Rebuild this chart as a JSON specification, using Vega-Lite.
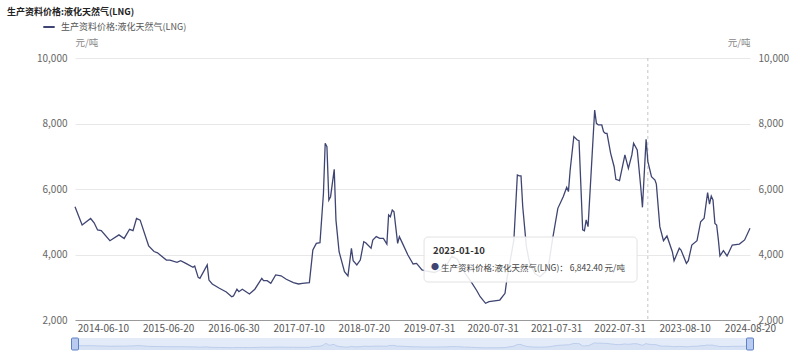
{
  "$schema": "https://vega.github.io/schema/vega-lite/v6.json",
  "width": 675,
  "height": 262,
  "autosize": {"type": "none"},
  "padding": {"left": 75, "top": 58, "right": 50, "bottom": 42},
  "background": "#ffffff",
  "config": {"font": "Noto Sans CJK SC", "view": {"stroke": null}},
  "title": {"text": "生产资料价格:液化天然气(LNG)", "anchor": "start", "frame": "group", "dx": -68, "offset": 3, "fontSize": 9, "fontWeight": "bold", "color": "#222222"},
  "datasets": {
    "lng": [
      {"date": "2013-12-31", "value": 5460}, {"date": "2014-02-10", "value": 4900}, {"date": "2014-03-31", "value": 5100}, {"date": "2014-04-20", "value": 4970},
      {"date": "2014-05-10", "value": 4750}, {"date": "2014-05-31", "value": 4730}, {"date": "2014-07-20", "value": 4420}, {"date": "2014-09-10", "value": 4600},
      {"date": "2014-10-10", "value": 4490}, {"date": "2014-11-10", "value": 4770}, {"date": "2014-11-30", "value": 4730}, {"date": "2014-12-20", "value": 5100},
      {"date": "2015-01-10", "value": 5050}, {"date": "2015-02-20", "value": 4390}, {"date": "2015-02-28", "value": 4260}, {"date": "2015-03-31", "value": 4090},
      {"date": "2015-04-20", "value": 4050}, {"date": "2015-06-10", "value": 3830}, {"date": "2015-06-30", "value": 3830}, {"date": "2015-08-10", "value": 3760},
      {"date": "2015-08-31", "value": 3810}, {"date": "2015-09-30", "value": 3730}, {"date": "2015-11-10", "value": 3610}, {"date": "2015-11-20", "value": 3650},
      {"date": "2015-12-10", "value": 3300}, {"date": "2015-12-20", "value": 3270}, {"date": "2016-01-31", "value": 3680}, {"date": "2016-02-10", "value": 3220},
      {"date": "2016-02-29", "value": 3100}, {"date": "2016-04-10", "value": 2970}, {"date": "2016-05-20", "value": 2855}, {"date": "2016-06-20", "value": 2710},
      {"date": "2016-06-30", "value": 2735}, {"date": "2016-07-20", "value": 2940}, {"date": "2016-07-31", "value": 2865}, {"date": "2016-08-20", "value": 2940},
      {"date": "2016-09-30", "value": 2795}, {"date": "2016-10-31", "value": 2940}, {"date": "2016-12-10", "value": 3270}, {"date": "2016-12-20", "value": 3200},
      {"date": "2017-01-10", "value": 3200}, {"date": "2017-01-31", "value": 3120}, {"date": "2017-02-28", "value": 3375}, {"date": "2017-03-31", "value": 3350},
      {"date": "2017-04-30", "value": 3245}, {"date": "2017-06-10", "value": 3140}, {"date": "2017-07-10", "value": 3100}, {"date": "2017-07-31", "value": 3120},
      {"date": "2017-09-10", "value": 3140}, {"date": "2017-09-30", "value": 4140}, {"date": "2017-10-20", "value": 4340}, {"date": "2017-11-10", "value": 4360},
      {"date": "2017-11-30", "value": 5870}, {"date": "2017-12-10", "value": 7395}, {"date": "2017-12-20", "value": 7290}, {"date": "2017-12-31", "value": 5665},
      {"date": "2018-01-10", "value": 5765}, {"date": "2018-01-31", "value": 6600}, {"date": "2018-02-10", "value": 5050}, {"date": "2018-02-28", "value": 4085},
      {"date": "2018-03-31", "value": 3475}, {"date": "2018-04-20", "value": 3345}, {"date": "2018-05-10", "value": 4190}, {"date": "2018-05-20", "value": 3810},
      {"date": "2018-06-10", "value": 3680}, {"date": "2018-06-30", "value": 3830}, {"date": "2018-07-20", "value": 4390}, {"date": "2018-07-31", "value": 4360},
      {"date": "2018-08-31", "value": 4190}, {"date": "2018-09-10", "value": 4440}, {"date": "2018-09-30", "value": 4545}, {"date": "2018-10-20", "value": 4495},
      {"date": "2018-11-10", "value": 4495}, {"date": "2018-11-30", "value": 4320}, {"date": "2018-12-10", "value": 5205}, {"date": "2018-12-20", "value": 5155},
      {"date": "2018-12-31", "value": 5360}, {"date": "2019-01-10", "value": 5305}, {"date": "2019-01-31", "value": 4340}, {"date": "2019-02-10", "value": 4545},
      {"date": "2019-02-28", "value": 4340}, {"date": "2019-03-31", "value": 3985}, {"date": "2019-04-30", "value": 3710}, {"date": "2019-05-20", "value": 3730},
      {"date": "2019-06-20", "value": 3530}, {"date": "2019-07-10", "value": 3500}, {"date": "2019-08-31", "value": 3450}, {"date": "2019-10-31", "value": 3600},
      {"date": "2019-12-10", "value": 3950}, {"date": "2020-01-10", "value": 3850}, {"date": "2020-02-20", "value": 3450}, {"date": "2020-03-31", "value": 3150},
      {"date": "2020-04-30", "value": 2900}, {"date": "2020-05-20", "value": 2710}, {"date": "2020-06-20", "value": 2510}, {"date": "2020-07-10", "value": 2560},
      {"date": "2020-09-10", "value": 2610}, {"date": "2020-10-10", "value": 2815}, {"date": "2020-10-20", "value": 3220}, {"date": "2020-11-30", "value": 4445},
      {"date": "2020-12-20", "value": 6430}, {"date": "2020-12-31", "value": 6400}, {"date": "2021-01-10", "value": 6400}, {"date": "2021-01-20", "value": 5460},
      {"date": "2021-02-10", "value": 4240}, {"date": "2021-02-28", "value": 3750}, {"date": "2021-03-31", "value": 3420}, {"date": "2021-04-30", "value": 3320},
      {"date": "2021-05-31", "value": 3480}, {"date": "2021-06-20", "value": 3750}, {"date": "2021-07-10", "value": 4445}, {"date": "2021-08-10", "value": 5410},
      {"date": "2021-09-10", "value": 5765}, {"date": "2021-09-30", "value": 6050}, {"date": "2021-10-10", "value": 5920}, {"date": "2021-10-20", "value": 6580},
      {"date": "2021-11-10", "value": 7600}, {"date": "2021-11-30", "value": 7495}, {"date": "2021-12-10", "value": 7475}, {"date": "2021-12-31", "value": 4750},
      {"date": "2022-01-10", "value": 4725}, {"date": "2022-01-20", "value": 5055}, {"date": "2022-01-31", "value": 4850}, {"date": "2022-03-10", "value": 8410},
      {"date": "2022-03-20", "value": 8005}, {"date": "2022-03-31", "value": 7955}, {"date": "2022-04-20", "value": 7955}, {"date": "2022-04-30", "value": 7750},
      {"date": "2022-05-10", "value": 7700}, {"date": "2022-05-20", "value": 7700}, {"date": "2022-06-10", "value": 7090}, {"date": "2022-06-30", "value": 6680},
      {"date": "2022-07-10", "value": 6295}, {"date": "2022-07-31", "value": 6255}, {"date": "2022-08-31", "value": 7040}, {"date": "2022-09-10", "value": 6835},
      {"date": "2022-09-20", "value": 6630}, {"date": "2022-10-10", "value": 7040}, {"date": "2022-10-20", "value": 7395}, {"date": "2022-11-10", "value": 7190},
      {"date": "2022-11-30", "value": 6070}, {"date": "2022-12-10", "value": 5440}, {"date": "2022-12-31", "value": 7517}, {"date": "2023-01-10", "value": 6842.4},
      {"date": "2023-01-31", "value": 6377}, {"date": "2023-02-20", "value": 6275}, {"date": "2023-02-28", "value": 6150}, {"date": "2023-03-20", "value": 4850},
      {"date": "2023-04-10", "value": 4420}, {"date": "2023-04-30", "value": 4565}, {"date": "2023-05-31", "value": 4085}, {"date": "2023-06-10", "value": 3810},
      {"date": "2023-07-10", "value": 4190}, {"date": "2023-07-20", "value": 4135}, {"date": "2023-08-20", "value": 3730}, {"date": "2023-08-31", "value": 3810},
      {"date": "2023-09-20", "value": 4290}, {"date": "2023-10-20", "value": 4420}, {"date": "2023-11-10", "value": 5000}, {"date": "2023-11-30", "value": 5105},
      {"date": "2023-12-20", "value": 5890}, {"date": "2023-12-31", "value": 5540}, {"date": "2024-01-10", "value": 5785}, {"date": "2024-01-20", "value": 5665},
      {"date": "2024-01-31", "value": 4950}, {"date": "2024-02-10", "value": 4900}, {"date": "2024-02-20", "value": 4445}, {"date": "2024-02-29", "value": 3955},
      {"date": "2024-03-20", "value": 4115}, {"date": "2024-04-10", "value": 3955}, {"date": "2024-05-10", "value": 4290}, {"date": "2024-06-20", "value": 4320},
      {"date": "2024-07-20", "value": 4445}, {"date": "2024-08-20", "value": 4800}
    ],
    "tip": [
      {"date": "2023-01-10", "dateLabel": "2023-01-10", "label": "生产资料价格:液化天然气(LNG)： 6,842.40 元/吨", "start": "2019-07-02", "end": "2022-11-09", "top": 4534, "bottom": 3160}
    ],
    "handles": [{"date": "2013-12-31"}, {"date": "2024-08-20"}]
  },
  "resolve": {"scale": {"y": "independent"}},
  "layer": [
    {
      "data": {"name": "tip"},
      "mark": {"type": "rule", "color": "#c4c4c4", "strokeDash": [3, 3], "strokeWidth": 1},
      "encoding": {"x": {"field": "date", "type": "temporal", "title": null}}
    },
    {
      "data": {"name": "lng"},
      "mark": {"type": "line", "strokeWidth": 1.3, "interpolate": "linear"},
      "encoding": {
        "x": {
          "field": "date", "type": "temporal", "title": null,
          "scale": {"type": "utc", "domain": [{"year": 2013, "month": 12, "date": 31, "utc": true}, {"year": 2024, "month": 8, "date": 20, "utc": true}]},
          "axis": {
            "values": [
              {"year": 2014, "month": 6, "date": 10, "utc": true}, {"year": 2015, "month": 6, "date": 20, "utc": true},
              {"year": 2016, "month": 6, "date": 30, "utc": true}, {"year": 2017, "month": 7, "date": 10, "utc": true},
              {"year": 2018, "month": 7, "date": 20, "utc": true}, {"year": 2019, "month": 7, "date": 31, "utc": true},
              {"year": 2020, "month": 7, "date": 31, "utc": true}, {"year": 2021, "month": 7, "date": 31, "utc": true},
              {"year": 2022, "month": 7, "date": 31, "utc": true}, {"year": 2023, "month": 8, "date": 10, "utc": true},
              {"year": 2024, "month": 8, "date": 20, "utc": true}
            ],
            "format": "%Y-%m-%d", "labelFontSize": 10, "labelColor": "#555555", "ticks": false,
            "domainColor": "#9a9a9a", "grid": false, "labelPadding": 3, "labelFlush": false, "labelOverlap": false
          }
        },
        "y": {
          "field": "value", "type": "quantitative", "title": "元/吨",
          "scale": {"domain": [2000, 10000], "nice": false, "zero": false},
          "axis": {
            "values": [2000, 4000, 6000, 8000, 10000], "format": ",.0f", "labelFontSize": 10, "labelColor": "#666666",
            "labelPadding": 8, "ticks": false, "domain": false, "grid": true, "gridColor": "#e8e8e8",
            "titleAngle": 0, "titleAlign": "left", "titleBaseline": "middle", "titleX": 0, "titleY": -16,
            "titleFontWeight": "normal", "titleFontSize": 9.5, "titleColor": "#888888"
          }
        },
        "color": {
          "datum": "生产资料价格:液化天然气(LNG)",
          "scale": {"range": ["#3f4572"]},
          "legend": {
            "orient": "none", "legendX": -33, "legendY": -38, "title": null, "symbolType": "stroke",
            "symbolStrokeWidth": 2, "symbolSize": 130, "labelFontSize": 9, "labelColor": "#555555",
            "padding": 0, "labelOffset": 5
          }
        }
      }
    },
    {
      "data": {"name": "tip"},
      "mark": {"type": "rect", "fill": "#ffffff", "fillOpacity": 0.88, "stroke": "#e2e2e2", "strokeWidth": 1, "cornerRadius": 4},
      "encoding": {
        "x": {"field": "start", "type": "temporal", "title": null},
        "x2": {"field": "end"},
        "y": {
          "field": "top", "type": "quantitative", "title": "元/吨",
          "scale": {"domain": [2000, 10000], "nice": false, "zero": false},
          "axis": {
            "orient": "right", "values": [2000, 4000, 6000, 8000, 10000], "format": ",.0f", "labelFontSize": 10,
            "labelColor": "#666666", "labelPadding": 8, "ticks": false, "domain": false, "grid": false,
            "titleAngle": 0, "titleAlign": "right", "titleBaseline": "middle", "titleX": 0, "titleY": -16,
            "titleFontWeight": "normal", "titleFontSize": 9.5, "titleColor": "#888888"
          }
        },
        "y2": {"field": "bottom"}
      }
    },
    {
      "data": {"name": "tip"},
      "mark": {"type": "text", "align": "left", "baseline": "middle", "dx": 9, "dy": 14, "fontSize": 9.5, "fontWeight": "bold", "color": "#333333"},
      "encoding": {
        "x": {"field": "start", "type": "temporal", "title": null},
        "y": {"field": "top", "type": "quantitative", "scale": {"domain": [2000, 10000], "nice": false, "zero": false}, "axis": null},
        "text": {"field": "dateLabel"}
      }
    },
    {
      "data": {"name": "tip"},
      "mark": {"type": "text", "align": "center", "baseline": "middle", "dx": 11, "dy": 31, "fontSize": 8, "color": "#3f4572", "text": "●"},
      "encoding": {
        "x": {"field": "start", "type": "temporal", "title": null},
        "y": {"field": "top", "type": "quantitative", "scale": {"domain": [2000, 10000], "nice": false, "zero": false}, "axis": null}
      }
    },
    {
      "data": {"name": "tip"},
      "mark": {"type": "text", "align": "left", "baseline": "middle", "dx": 17, "dy": 31, "fontSize": 8.5, "color": "#444444"},
      "encoding": {
        "x": {"field": "start", "type": "temporal", "title": null},
        "y": {"field": "top", "type": "quantitative", "scale": {"domain": [2000, 10000], "nice": false, "zero": false}, "axis": null},
        "text": {"field": "label"}
      }
    },
    {
      "data": {"values": [{"lo": 0, "hi": 14000}]},
      "mark": {"type": "rect", "fill": "#e3ebf8"},
      "encoding": {
        "y": {"field": "lo", "type": "quantitative", "scale": {"domain": [0, 14000], "range": [292, 280], "nice": false, "zero": false}, "axis": null},
        "y2": {"field": "hi"}
      }
    },
    {
      "data": {"name": "lng"},
      "mark": {"type": "area", "fill": "#d2def3", "line": {"color": "#b4c6e8", "strokeWidth": 0.8}},
      "encoding": {
        "x": {"field": "date", "type": "temporal", "title": null},
        "y": {"field": "value", "type": "quantitative", "scale": {"domain": [0, 14000], "range": [292, 280], "nice": false, "zero": false}, "axis": null}
      }
    },
    {
      "data": {"name": "handles"},
      "mark": {"type": "rect", "width": 7, "height": 12, "fill": "#b9cbef", "stroke": "#5f80c4", "strokeWidth": 1, "cornerRadius": 1},
      "encoding": {
        "x": {"field": "date", "type": "temporal", "title": null},
        "y": {"datum": 7000, "type": "quantitative", "scale": {"domain": [0, 14000], "range": [292, 280], "nice": false, "zero": false}, "axis": null}
      }
    }
  ]
}
